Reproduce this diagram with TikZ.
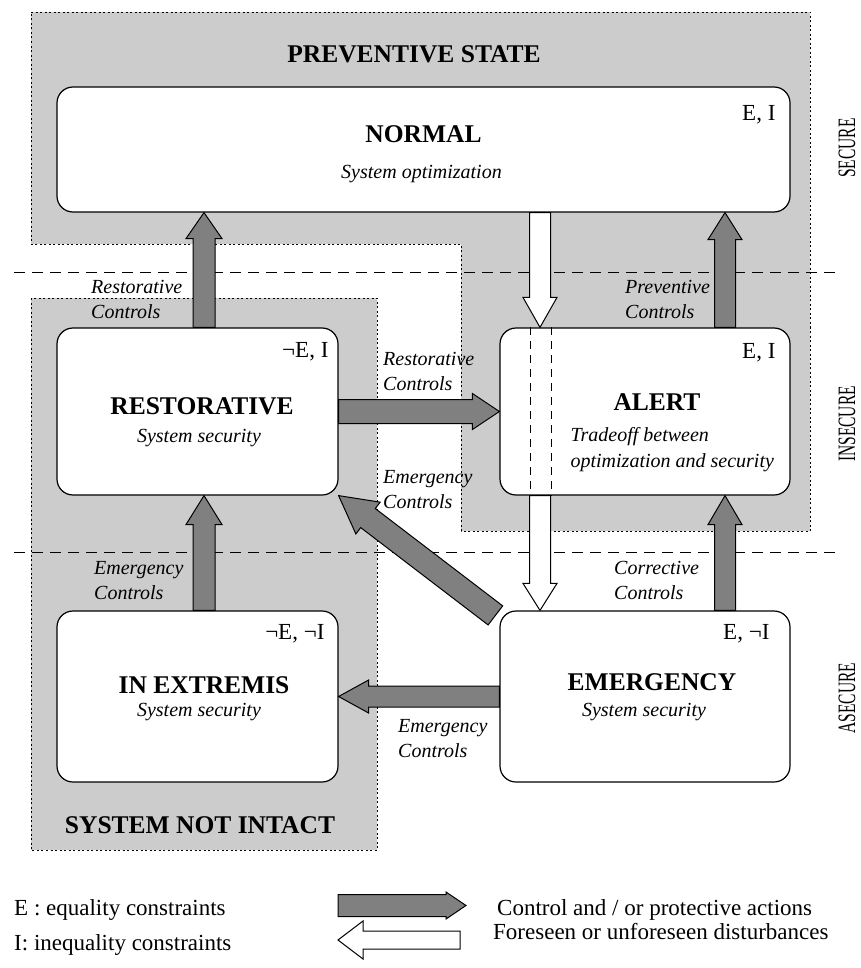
\documentclass[tikz,border=0pt]{standalone}
\usepackage{fontspec}
\setmainfont{Liberation Serif}
\usetikzlibrary{calc,positioning}
\definecolor{zonegray}{gray}{0.8}
\definecolor{arrowgray}{gray}{0.5}
\tikzset{
 zone/.style={fill=zonegray, draw=black, line width=0.8pt, dash pattern=on 2pt off 2.5pt},
 band/.style={draw=black, line width=0.9pt, dash pattern=on 11pt off 7pt},
 statebox/.style={draw=black, fill=white, rounded corners=16pt, line width=1.2pt, inner sep=0pt},
 ctrlarrow/.style={draw=black, fill=arrowgray, line width=1pt, line join=miter},
 distarrow/.style={draw=black, fill=white, line width=1pt, line join=miter},
 boxtitle/.style={font=\fontsize{25.5}{28}\selectfont\bfseries, inner sep=0pt},
 boxsub/.style={font=\fontsize{20}{26}\selectfont\itshape, inner sep=0pt},
 constr/.style={font=\fontsize{23}{26}\selectfont, inner sep=0pt, anchor=east},
 ctrllabel/.style={font=\fontsize{20}{25}\selectfont\itshape, align=left, anchor=west, inner sep=0pt},
 levellabel/.style={font=\fontsize{25}{28}\selectfont, rotate=90, inner sep=0pt},
 legendtext/.style={font=\fontsize{23}{26}\selectfont, anchor=west, inner sep=0pt}
}
% fat arrow: [style]{from}{to}{half shaft}{half head}{head length}
\newcommand{\fatarrow}[6][ctrlarrow]{%
 \coordinate (fa-s) at (#2);
 \coordinate (fa-t) at (#3);
 \coordinate (fa-b) at ($(fa-t)!#6pt!(fa-s)$);
 \draw[#1] ($(fa-s)!#4pt!90:(fa-t)$) -- ($(fa-b)!#4pt!-90:(fa-s)$) -- ($(fa-b)!#5pt!-90:(fa-s)$)
   -- (fa-t) -- ($(fa-b)!#5pt!90:(fa-s)$) -- ($(fa-b)!#4pt!90:(fa-s)$) -- ($(fa-s)!#4pt!-90:(fa-t)$) -- cycle;
}

\begin{document}
\begin{tikzpicture}[x=1pt,y=-1pt]
\useasboundingbox (0,0) rectangle (861,968);

% zones
\draw[zone] (31,12) -- (810,12) -- (810,531) -- (461,531) -- (461,244) -- (31,244) -- cycle;
\draw[zone] (31,298) rectangle (377,850);
\path (414,54) node[name=prevstate, boxtitle] {PREVENTIVE STATE};
\path (200,825) node[name=notintact, boxtitle] {SYSTEM NOT INTACT};

\draw[band] (14,272) -- (835,272);
\draw[band] (14,552) -- (835,552);

\path (847,148) node[name=secure, levellabel] {\scalebox{0.62}[1]{SECURE}};
\path (847,424) node[name=insecure, levellabel] {\scalebox{0.62}[1]{INSECURE}};
\path (847,698) node[name=asecure, levellabel] {\scalebox{0.62}[1]{ASECURE}};

% states
\path (423.5,149.5) node[name=normal, statebox, minimum width=733, minimum height=125] {};
\path (197.5,411.5) node[name=restorative, statebox, minimum width=281, minimum height=167] {};
\path (645,411.5) node[name=alert, statebox, minimum width=290, minimum height=167] {};
\path (197.5,696.5) node[name=inextremis, statebox, minimum width=281, minimum height=171] {};
\path (645,696.5) node[name=emergency, statebox, minimum width=290, minimum height=171] {};

\path (normal)+(0,-15) node[boxtitle] {NORMAL};
\path (normal)+(-2,25) node[boxsub] {System optimization};
\path (normal.north east)+(-15,28) node[constr] {E, I};

\path (restorative)+(4.5,-5.5) node[boxtitle] {RESTORATIVE};
\path (restorative)+(1.5,27) node[boxsub] {System security};
\path (restorative.north east)+(-10,24) node[constr] {¬E, I};

\path (alert)+(12,-9.5) node[boxtitle] {ALERT};
\path (alert.west)+(71,38.5) node[boxsub, align=left, anchor=west] {Tradeoff between\\optimization and security};
\path (alert.north east)+(-15,25) node[constr] {E, I};

\path (inextremis)+(6.5,-11.5) node[boxtitle] {IN EXTREMIS};
\path (inextremis)+(1.5,16) node[boxsub] {System security};
\path (inextremis.north east)+(-14,23) node[constr] {¬E, ¬I};

\path (emergency)+(7,-14.5) node[boxtitle] {EMERGENCY};
\path (emergency)+(-1,16) node[boxsub] {System security};
\path (emergency.north east)+(-21,23) node[constr] {E, ¬I};

% disturbance passing behind alert
\draw[band, dash pattern=on 8pt off 6pt] ([xshift=-115]alert.north) -- ([xshift=-115]alert.south);
\draw[band, dash pattern=on 8pt off 6pt] ([xshift=-94]alert.north) -- ([xshift=-94]alert.south);

% transitions
\fatarrow{[xshift=6.5]restorative.north}{[xshift=6.5]restorative.north |- normal.south}{11}{18}{26}
\fatarrow{[xshift=80]alert.north}{[xshift=80]alert.north |- normal.south}{10.5}{17}{27}
\fatarrow{[xshift=6.5]inextremis.north}{[xshift=6.5]restorative.south}{11}{18}{29}
\fatarrow{[xshift=80]emergency.north}{[xshift=80]alert.south}{10.5}{17}{29}
\fatarrow{restorative.east}{alert.west}{12}{18}{27}
\fatarrow{emergency.west}{inextremis.east}{10.5}{16.5}{30}
\fatarrow{$(emergency.north west)+(-4,5)$}{restorative.south east}{12}{20}{37}
\fatarrow[distarrow]{[xshift=-105]alert.north |- normal.south}{[xshift=-105]alert.north}{10.5}{17}{30}
\fatarrow[distarrow]{[xshift=-105]alert.south}{[xshift=-105]emergency.north}{10.5}{17}{27}

\path (91,299) node[name=restctrlA, ctrllabel] {Restorative\\Controls};
\path (625,299) node[name=prevctrl, ctrllabel] {Preventive\\Controls};
\path (383,371.5) node[name=restctrlB, ctrllabel] {Restorative\\Controls};
\path (383,489.5) node[name=emerctrlA, ctrllabel] {Emergency\\Controls};
\path (94,580.5) node[name=emerctrlB, ctrllabel] {Emergency\\Controls};
\path (614,580.5) node[name=corrctrl, ctrllabel] {Corrective\\Controls};
\path (398,738.5) node[name=emerctrlC, ctrllabel] {Emergency\\Controls};

% legend
\path (14,910) node[name=eqlegend, legendtext] {E : equality constraints};
\path (14,945) node[name=ineqlegend, legendtext] {I: inequality constraints};
\coordinate (lgctrl) at (338,905.5);
\coordinate (lgctrltip) at (466,905.5);
\fatarrow{lgctrl}{lgctrltip}{11}{13.5}{20}
\coordinate (lgdist) at (460,940);
\coordinate (lgdisttip) at (338,940);
\fatarrow[distarrow]{lgdist}{lgdisttip}{9}{19}{25}
\path (497,910) node[name=ctrllegend, legendtext] {Control and / or protective actions};
\path (493,932) node[name=distlegend, legendtext] {Foreseen or unforeseen disturbances};

\end{tikzpicture}
\end{document}
